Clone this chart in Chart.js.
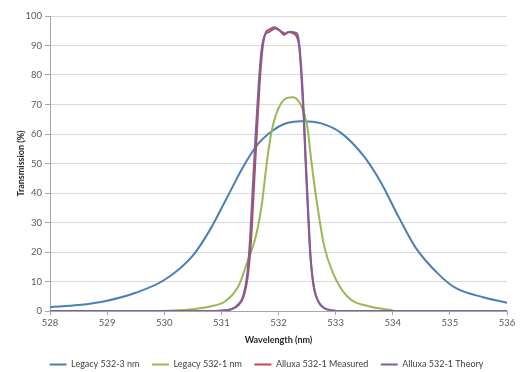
<!DOCTYPE html>
<html><head><meta charset="utf-8">
<script src="https://cdn.jsdelivr.net/npm/chart.js@4.4.0/dist/chart.umd.min.js"></script>
<style>html,body{margin:0;padding:0;background:#fff;}</style>
</head><body>
<canvas id="c" width="521" height="372"></canvas>
<script>
const xTicks = [528, 529, 530, 531, 532, 533, 534, 535, 536];
const yTicks = [0, 10, 20, 30, 40, 50, 60, 70, 80, 90, 100];
const seriesNames = ['Legacy 532-3 nm', 'Legacy 532-1 nm', 'Alluxa 532-1 Measured', 'Alluxa 532-1 Theory'];

const wlLegacy3 = [528, 528.5, 529, 529.5, 530, 530.5, 530.8, 531.1, 531.4, 531.65, 531.9, 532.1, 532.4, 532.75, 533.1, 533.5, 533.8, 534.1, 534.4, 534.8, 535.1, 535.6, 536];
const tLegacy3  = [1.3, 2.0, 3.5, 6.2, 10.5, 18.8, 27.5, 38.5, 49.5, 56.8, 61.2, 63.4, 64.3, 63.6, 60.3, 52.3, 43.3, 32, 21.5, 12.5, 7.8, 4.6, 2.8];

const wlLegacy1 = [530, 530.5, 530.8, 531.06, 531.3, 531.47, 531.6, 531.7, 531.8, 531.88, 532.05, 532.25, 532.4, 532.5, 532.58, 532.67, 532.8, 532.95, 533.2, 533.6, 534];
const tLegacy1  = [0, 0.6, 1.5, 3.2, 8.5, 17.5, 25, 35, 51, 61, 70.5, 72.5, 69.5, 63, 50, 37, 22, 13, 5, 1.5, 0.3];

const wlMeasured = [528, 530.9, 531.15, 531.3, 531.4, 531.47, 531.52, 531.57, 531.62, 531.67, 531.72, 531.78, 531.85, 531.93, 532.02, 532.1, 532.17, 532.25, 532.32, 532.36, 532.4, 532.44, 532.48, 532.52, 532.56, 532.62, 532.7, 532.8, 532.95, 533.1, 536];
const tMeasured  = [0, 0, 0.5, 2, 5.5, 13, 24, 42, 60, 77, 89, 94.5, 95.5, 96.2, 95.2, 93.6, 94.6, 94.2, 93, 90, 80, 66, 48, 32, 18, 8, 3, 1, 0.2, 0, 0];

const wlTheory = [528, 530.9, 531.15, 531.3, 531.38, 531.45, 531.5, 531.55, 531.6, 531.65, 531.7, 531.76, 531.84, 531.94, 532.05, 532.12, 532.2, 532.32, 532.36, 532.4, 532.44, 532.48, 532.52, 532.56, 532.62, 532.7, 532.8, 532.95, 533.1, 536];
const tTheory  = [0, 0, 0.4, 2.3, 5, 12, 24, 42, 60, 76, 88, 93.5, 94.6, 95.8, 94.7, 94.1, 94.7, 94.1, 91, 82, 68, 50, 34, 19, 8, 3.2, 1, 0.2, 0, 0];

function pts(xs, ys) { return xs.map((x, i) => ({x: x, y: ys[i]})); }

const FONT = 'Lato, "Liberation Sans", sans-serif';
const colors = ['#4a7ebb', '#98b954', '#be4b48', '#7d60a0'];
const dataSets = [pts(wlLegacy3, tLegacy3), pts(wlLegacy1, tLegacy1), pts(wlMeasured, tMeasured), pts(wlTheory, tTheory)];

const legendFix = {
  id: 'legendFix',
  beforeInit(chart) {
    const lg = chart.legend;
    if (lg) {
      const orig = lg.fit;
      lg.fit = function() { orig.call(this); if (this.isHorizontal()) this.height = 25; };
    }
  },
  afterLayout(chart) {
    const lg = chart.legend;
    const dy = 347.5 - lg.top;
    lg.top += dy; lg.bottom += dy;
    lg.left += 13; lg.right += 13;
  }
};

new Chart(document.getElementById('c'), {
  type: 'line',
  data: {
    datasets: dataSets.map((d, i) => ({
      label: seriesNames[i],
      data: d,
      borderColor: colors[i],
      backgroundColor: colors[i],
      borderWidth: 2,
      pointRadius: 0,
      pointStyle: 'line',
      fill: false,
      cubicInterpolationMode: 'monotone',
      order: 4 - i
    }))
  },
  options: {
    responsive: false,
    devicePixelRatio: 1,
    animation: false,
    layout: {padding: {top: 16, right: 14, bottom: 0, left: 0}},
    plugins: {
      legend: {
        position: 'bottom',
        labels: {
          usePointStyle: true, pointStyle: 'line', pointStyleWidth: 17,
          boxWidth: 17, boxHeight: 2, padding: 12.5,
          color: '#404040',
          font: {family: FONT, size: 9},
          sort: (a, b) => a.datasetIndex - b.datasetIndex
        }
      },
      tooltip: {enabled: false}
    },
    scales: {
      x: {
        type: 'linear', min: 528, max: 536,
        afterFit: s => { s.height = 36; },
        afterBuildTicks: s => { s.ticks = xTicks.map(v => ({value: v})); },
        grid: {drawOnChartArea: false, drawTicks: true, tickLength: 4, tickColor: '#a6a6a6'},
        border: {display: true, color: '#a6a6a6', width: 1},
        ticks: {color: '#595959', font: {family: FONT, size: 9.5}, padding: 2, maxRotation: 0},
        title: {display: true, text: 'Wavelength (nm)', color: '#262626', font: {family: FONT, size: 9, weight: 'bold'}, padding: {top: 0, bottom: 2}}
      },
      y: {
        type: 'linear', min: 0, max: 100,
        afterFit: s => { s.width = 50; },
        afterBuildTicks: s => { s.ticks = yTicks.map(v => ({value: v})); },
        grid: {color: '#d9d9d9', tickColor: '#a6a6a6', tickLength: 5, drawTicks: true},
        border: {display: true, color: '#a6a6a6', width: 1},
        ticks: {color: '#595959', font: {family: FONT, size: 9.5}, padding: 3},
        title: {display: true, text: 'Transmission (%)', color: '#262626', font: {family: FONT, size: 9, weight: 'bold'}, padding: {top: 16, bottom: 0}}
      }
    }
  },
  plugins: [legendFix]
});
</script>
</body></html>
